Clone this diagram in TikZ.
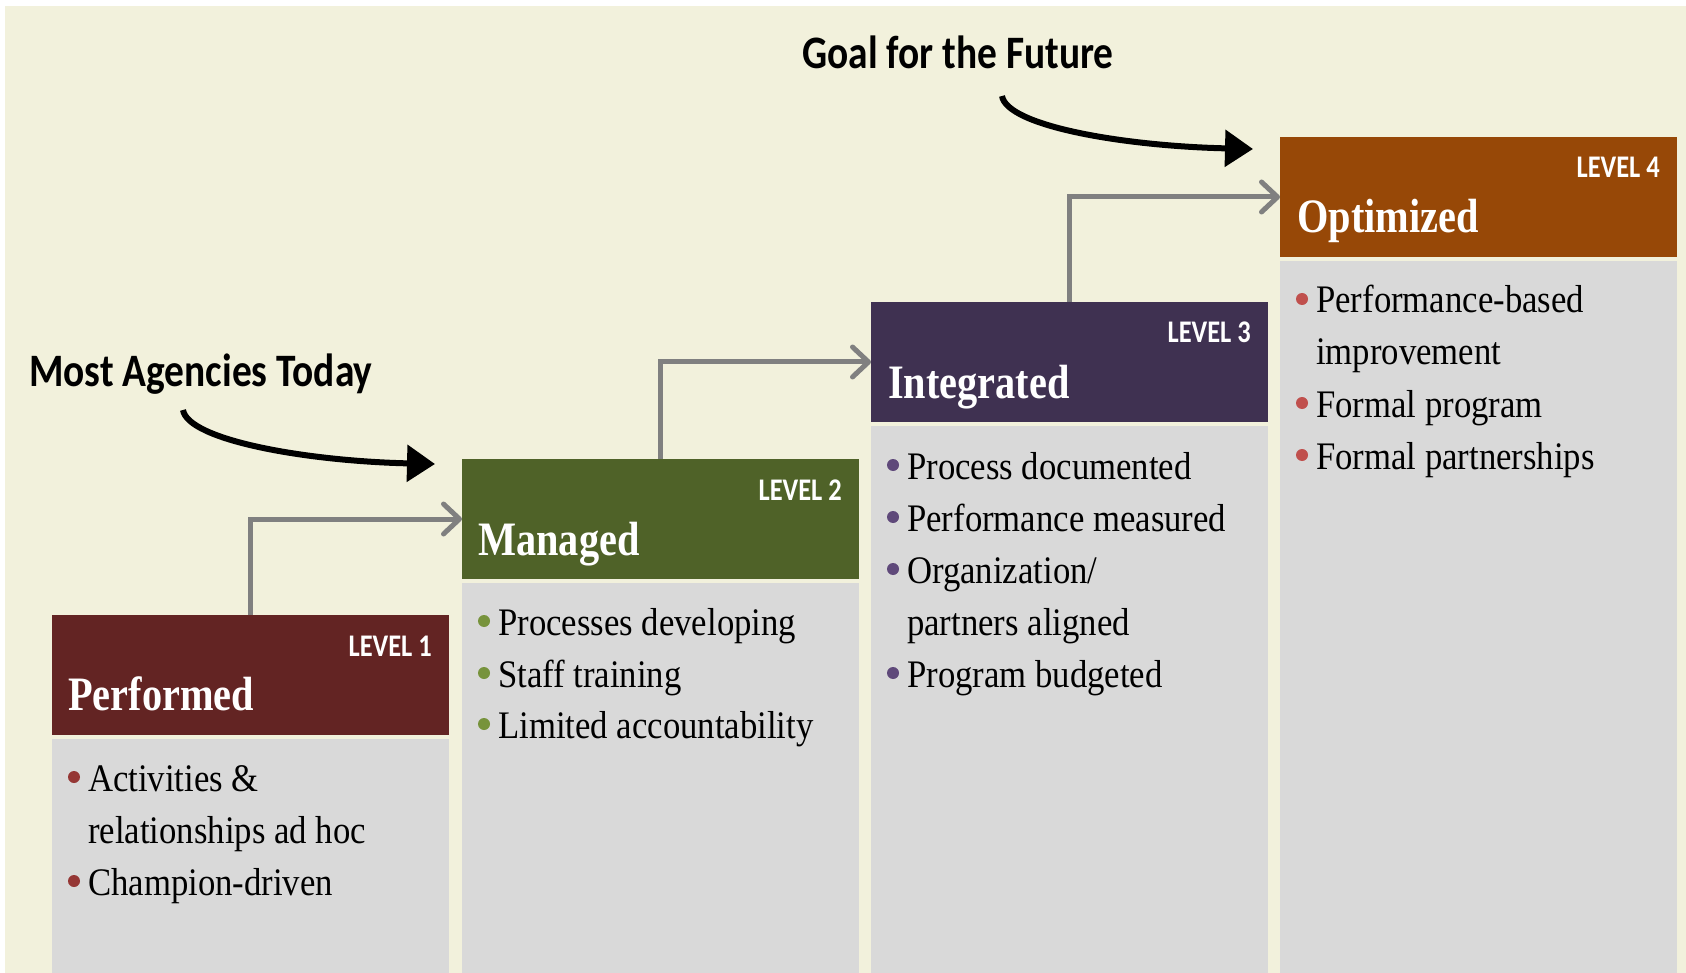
\documentclass[tikz,border=0pt]{standalone}
\usepackage{fontspec}
\setmainfont{Liberation Serif}
\newfontfamily\titlefont[FakeStretch=0.84]{Liberation Serif}
\newfontfamily\bodyfont[FakeStretch=0.89]{Liberation Serif}
\newfontfamily\calfont[FakeStretch=0.84]{Carlito}
\newfontfamily\notefont[FakeStretch=0.848]{Carlito}
\usetikzlibrary{arrows.meta}
\definecolor{bg}{RGB}{242,241,220}
\definecolor{bodygray}{RGB}{217,217,217}
\definecolor{conngray}{RGB}{128,128,128}
\definecolor{hA}{RGB}{99,36,35}
\definecolor{hB}{RGB}{79,98,40}
\definecolor{hC}{RGB}{63,49,81}
\definecolor{hD}{RGB}{151,72,7}
\definecolor{dA}{RGB}{149,55,53}
\definecolor{dB}{RGB}{119,147,60}
\definecolor{dC}{RGB}{95,73,122}
\definecolor{dD}{RGB}{192,80,77}
\begin{document}
\begin{tikzpicture}[x=1pt,y=-1pt,
  hdr/.style={minimum width=397pt, minimum height=120pt, anchor=north west, inner sep=0pt, outer sep=0pt},
  bodybox/.style={fill=bodygray, anchor=north west, minimum width=397pt, inner sep=0pt, outer sep=0pt},
  title/.style={anchor=base west, inner sep=0pt, text=white, font=\titlefont\bfseries\fontsize{48}{48}\selectfont},
  lvl/.style={anchor=base east, inner sep=0pt, text=white, font=\calfont\bfseries\fontsize{31.5}{31.5}\selectfont},
  item/.style={anchor=base west, inner sep=0pt, text=black, font=\bodyfont\fontsize{39}{39}\selectfont},
  conn/.style={draw=conngray, line width=5pt, -{Straight Barb[length=16pt,width=30pt,line cap=round,line join=round]}},
  note/.style={anchor=base west, inner sep=0pt, font=\notefont\bfseries\fontsize{46.5}{46.5}\selectfont},
  pointer/.style={draw=black, line width=6pt, -{Triangle[length=28pt,width=36pt]}}
]
% canvas
\useasboundingbox (0,0) rectangle (1686,973);
\fill[white] (0,0) rectangle (1686,973);
\fill[bg] (5,6) rectangle (1686,973);

% level 1
\node[hdr, fill=hA] (h1) at (52,615) {};
\node[bodybox, minimum height=234pt] (b1) at (52,739) {};
\node[title] (n1) at (68,710) {Performed};
\node[lvl] (l1) at (432,656) {LEVEL 1};
\fill[dA] (74,777) circle (6pt);
\node[item] (t11) at (88,791) {Activities \&};
\node[item] (t12) at (88,843) {relationships ad hoc};
\fill[dA] (74,881) circle (6pt);
\node[item] (t13) at (88,895) {Champion-driven};

% level 2
\node[hdr, fill=hB] (h2) at (462,459) {};
\node[bodybox, minimum height=390pt] (b2) at (462,583) {};
\node[title] (n2) at (478,555) {Managed};
\node[lvl] (l2) at (842,500) {LEVEL 2};
\fill[dB] (484,621) circle (6pt);
\node[item] (t21) at (498,635) {Processes developing};
\fill[dB] (484,673) circle (6pt);
\node[item] (t22) at (498,687) {Staff training};
\fill[dB] (484,724) circle (6pt);
\node[item] (t23) at (498,738) {Limited accountability};

% level 3
\node[hdr, fill=hC] (h3) at (871,302) {};
\node[bodybox, minimum height=547pt] (b3) at (871,426) {};
\node[title] (n3) at (888,398) {Integrated};
\node[lvl] (l3) at (1251,343) {LEVEL 3};
\fill[dC] (893,465) circle (6pt);
\node[item] (t31) at (907,479) {Process documented};
\fill[dC] (893,517) circle (6pt);
\node[item] (t32) at (907,531) {Performance measured};
\fill[dC] (893,569) circle (6pt);
\node[item] (t33) at (907,583) {Organization/};
\node[item] (t34) at (907,635) {partners aligned};
\fill[dC] (893,673) circle (6pt);
\node[item] (t35) at (907,687) {Program budgeted};

% level 4
\node[hdr, fill=hD] (h4) at (1280,137) {};
\node[bodybox, minimum height=712pt] (b4) at (1280,261) {};
\node[title] (n4) at (1297,233) {Optimized};
\node[lvl] (l4) at (1660,178) {LEVEL 4};
\fill[dD] (1302,299) circle (6pt);
\node[item] (t41) at (1316,313) {Performance-based};
\node[item] (t42) at (1316,365) {improvement};
\fill[dD] (1302,403) circle (6pt);
\node[item] (t43) at (1316,417) {Formal program};
\fill[dD] (1302,455) circle (6pt);
\node[item] (t44) at (1316,469) {Formal partnerships};

% step connectors
\draw[conn] (h1.north) |- (h2.west);
\draw[conn] (h2.north) |- (h3.west);
\draw[conn] (h3.north) |- (h4.west);

% annotations
\node[note] (today) at (29,386) {Most Agencies Today};
\node[note] (goal) at (802,69) {Goal for the Future};
\coordinate (s1) at (183,410);
\coordinate (e1) at (435,464);
\coordinate (s2) at (1002,96);
\coordinate (e2) at (1253,149);
\draw[pointer] (s1) .. controls (188,440) and (305,461) .. (e1);
\draw[pointer] (s2) .. controls (1007,126) and (1123,146) .. (e2);
\end{tikzpicture}
\end{document}
